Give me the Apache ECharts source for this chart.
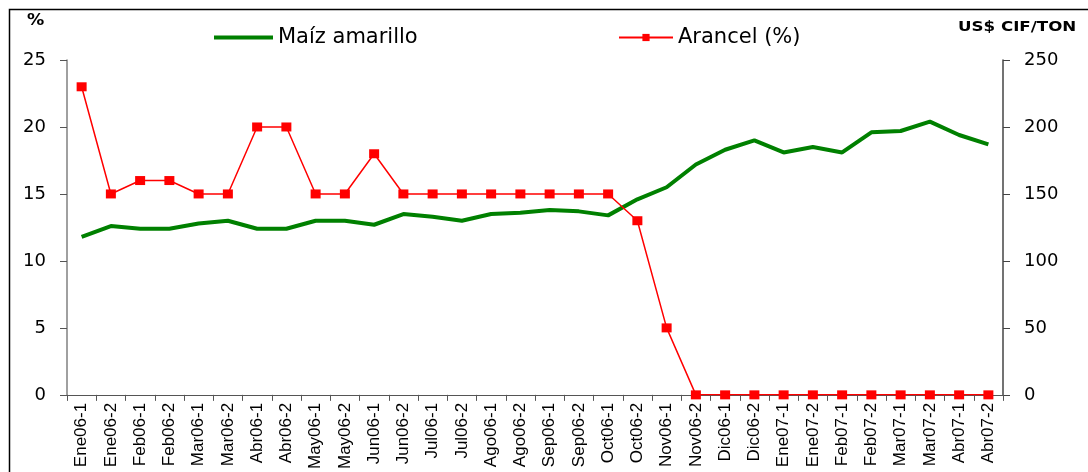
<!DOCTYPE html>
<html>
<head>
<meta charset="utf-8">
<script src="https://cdn.jsdelivr.net/npm/echarts@6/dist/echarts.min.js"></script>
<style>html,body{margin:0;padding:0;background:#fff;}#c{width:1088px;height:472px;}</style>
</head>
<body>
<div id="c"></div>
<script>
const categories = ['Ene06-1','Ene06-2','Feb06-1','Feb06-2','Mar06-1','Mar06-2','Abr06-1','Abr06-2','May06-1','May06-2','Jun06-1','Jun06-2','Jul06-1','Jul06-2','Ago06-1','Ago06-2','Sep06-1','Sep06-2','Oct06-1','Oct06-2','Nov06-1','Nov06-2','Dic06-1','Dic06-2','Ene07-1','Ene07-2','Feb07-1','Feb07-2','Mar07-1','Mar07-2','Abr07-1','Abr07-2'];
const maizAmarillo = [118,126,124,124,128,130,124,124,130,130,127,135,133,130,135,136,138,137,134,146,155,172,183,190,181,185,181,196,197,204,194,187];
const arancel = [23,15,16,16,15,15,20,20,15,15,18,15,15,15,15,15,15,15,15,13,5,0,0,0,0,0,0,0,0,0,0,0];
const leftTicks = {min:0, max:25, interval:5};
const rightTicks = {min:0, max:250, interval:50};

const chart = echarts.init(document.getElementById('c'), null, {renderer:'canvas'});
const numFont = {fontFamily:'DejaVu Sans', fontSize:18, color:'#000'};
chart.setOption({
  animation:false,
  backgroundColor:'#fff',
  graphic:[
    {type:'rect', shape:{x:9.5,y:9.5,width:1100,height:500}, style:{fill:'none', stroke:'#000', lineWidth:1.5}, z:0},
    {type:'text', x:27, y:14, scaleX:1.15, style:{text:'%', font:'bold 15px "DejaVu Sans"', fill:'#000'}},
    {type:'text', x:958, y:20, scaleX:1.19, style:{text:'US$ CIF/TON', font:'bold 14px "DejaVu Sans"', fill:'#000'}}
  ],
  legend:[
    {data:[{name:'Maíz amarillo', icon:'rect'}], left:209, top:22, itemWidth:59, itemHeight:4, itemGap:5,
     textStyle:{fontFamily:'DejaVu Sans', fontSize:21, color:'#000'}},
    {data:['Arancel (%)'], left:613, top:22, itemWidth:54, itemHeight:9, itemGap:8,
     textStyle:{fontFamily:'DejaVu Sans', fontSize:21, color:'#000'}}
  ],
  grid:{left:67, right:85, top:60, bottom:75, containLabel:false},
  xAxis:{
    type:'category', data:categories, boundaryGap:true,
    axisLine:{lineStyle:{color:'#555', width:1}},
    axisTick:{show:true, length:6, lineStyle:{color:'#555'}},
    axisLabel:{rotate:90, interval:0, margin:8, fontFamily:'Liberation Sans', fontSize:17, color:'#000'}
  },
  yAxis:[
    {type:'value', min:leftTicks.min, max:leftTicks.max, interval:leftTicks.interval, position:'left',
     axisLine:{show:true, lineStyle:{color:'#808080', width:1.5}},
     axisTick:{show:true, length:7, lineStyle:{color:'#555'}},
     splitLine:{show:false},
     axisLabel:Object.assign({margin:21}, numFont)},
    {type:'value', min:rightTicks.min, max:rightTicks.max, interval:rightTicks.interval, position:'right',
     axisLine:{show:true, lineStyle:{color:'#444', width:1.5}},
     axisTick:{show:true, length:7, lineStyle:{color:'#444'}},
     splitLine:{show:false},
     axisLabel:Object.assign({margin:21}, numFont)}
  ],
  series:[
    {name:'Maíz amarillo', type:'line', yAxisIndex:1, data:maizAmarillo,
     symbol:'none', lineStyle:{color:'#008000', width:4}, itemStyle:{color:'#008000'}, z:2},
    {name:'Arancel (%)', type:'line', yAxisIndex:0, data:arancel,
     symbol:'rect', symbolSize:[10,9], lineStyle:{color:'#ff0000', width:1.5}, itemStyle:{color:'#ff0000'}, z:3}
  ]
});
</script>
</body>
</html>
